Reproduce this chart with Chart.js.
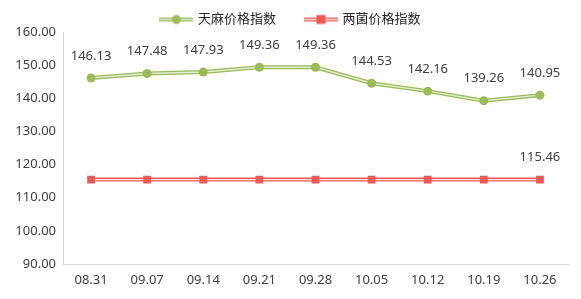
<!DOCTYPE html>
<html><head><meta charset="utf-8">
<script src="https://cdn.jsdelivr.net/npm/chart.js@4/dist/chart.umd.min.js"></script>
<style>html,body{margin:0;padding:0;background:#fff}#wrap{width:581px;height:299px}</style>
</head><body><div id="wrap"><canvas id="c" width="581" height="299"></canvas></div>
<script>
const categories = ['08.31','09.07','09.14','09.21','09.28','10.05','10.12','10.19','10.26'];
const tianmaValues = [146.13,147.48,147.93,149.36,149.36,144.53,142.16,139.26,140.95];
const liangjunValues = [115.46,115.46,115.46,115.46,115.46,115.46,115.46,115.46,115.46];
const seriesNames = ['天麻价格指数','两菌价格指数'];
const yTicks = [90,100,110,120,130,140,150,160];

const GREEN = '#9BBB59', GREEN_IN = '#E4ECD3';
const RED = '#EB5B55', RED_IN = '#FCE3E2';
const FONT = '"Noto Sans", "Noto Sans CJK SC", sans-serif';

function legendIcon(color, inner, shape){
  const c = document.createElement('canvas'); c.width = 34; c.height = 12;
  const x = c.getContext('2d');
  x.strokeStyle = color; x.lineWidth = 4; x.beginPath(); x.moveTo(0,6); x.lineTo(34,6); x.stroke();
  x.strokeStyle = inner; x.lineWidth = 1.4; x.beginPath(); x.moveTo(0,6); x.lineTo(34,6); x.stroke();
  x.fillStyle = color;
  if (shape === 'circle'){ x.beginPath(); x.arc(17,6,4.5,0,Math.PI*2); x.fill(); }
  else { x.fillRect(12.5,1.5,9,9); }
  return c;
}

const labelPlugin = {
  id:'valueLabels',
  afterDatasetsDraw(chart){
    const ctx = chart.ctx;
    ctx.save();
    ctx.font = '13px ' + FONT; ctx.fillStyle = '#404040';
    ctx.textAlign = 'center'; ctx.textBaseline = 'middle';
    chart.data.datasets.forEach((ds, di) => {
      if (!ds.labelMode) return;
      const meta = chart.getDatasetMeta(di);
      meta.data.forEach((pt, i) => {
        if (ds.labelMode === 'last' && i !== ds.data.length - 1) return;
        ctx.fillText(ds.data[i].toFixed(2), pt.x, pt.y - 22);
      });
    });
    ctx.restore();
  }
};

const chart = new Chart(document.getElementById('c'), {
  type:'line',
  data:{
    labels: categories,
    datasets:[
      {label:seriesNames[0], data:tianmaValues, showLine:false, pointStyle:'circle', pointRadius:4.5, pointBackgroundColor:GREEN, pointBorderWidth:0, labelMode:'all'},
      {label:seriesNames[1], data:liangjunValues, showLine:false, pointStyle:'rect', pointRadius:5.5, pointBackgroundColor:RED, pointBorderWidth:0, labelMode:'last'},
      {label:'g-in', data:tianmaValues, borderColor:GREEN_IN, borderWidth:1.4, pointRadius:0, tension:0},
      {label:'r-in', data:liangjunValues, borderColor:RED_IN, borderWidth:1.4, pointRadius:0, tension:0},
      {label:'g-out', data:tianmaValues, borderColor:GREEN, borderWidth:4, pointRadius:0, tension:0},
      {label:'r-out', data:liangjunValues, borderColor:RED, borderWidth:4, pointRadius:0, tension:0}
    ]
  },
  options:{
    responsive:false, animation:false, devicePixelRatio:1,
    layout:{padding:{left:0,right:13,top:-17,bottom:0}},
    plugins:{
      tooltip:{enabled:false},
      legend:{
        position:'top',
        labels:{
          usePointStyle:true, pointStyleWidth:30, padding:30,
          font:{size:13, family:FONT}, color:'#262626',
          generateLabels(){
            return [
              {text:seriesNames[0], pointStyle:legendIcon(GREEN,GREEN_IN,'circle'), fillStyle:GREEN, strokeStyle:GREEN, lineWidth:0, datasetIndex:0, hidden:false, fontColor:'#262626'},
              {text:seriesNames[1], pointStyle:legendIcon(RED,RED_IN,'rect'), fillStyle:RED, strokeStyle:RED, lineWidth:0, datasetIndex:1, hidden:false, fontColor:'#262626'}
            ];
          }
        }
      }
    },
    scales:{
      x:{
        offset:true,
        grid:{display:false, drawTicks:false},
        border:{display:true, color:'#D9D9D9'},
        ticks:{font:{size:13,family:FONT}, color:'#404040', padding:8, maxRotation:0},
        afterFit(s){ s.height = 35; }
      },
      y:{
        min:90, max:160,
        grid:{display:false, drawTicks:false},
        border:{display:true, color:'#D9D9D9'},
        afterBuildTicks(s){ s.ticks = yTicks.map(v => ({value:v})); },
        ticks:{font:{size:13,family:FONT}, color:'#404040', padding:7, callback:v => Number(v).toFixed(2)},
        afterFit(s){ s.width = 63; }
      }
    }
  },
  plugins:[labelPlugin]
});
const origFit = chart.legend.fit.bind(chart.legend);
chart.legend.fit = function(){ origFit(); this.height = 49; };
const origDraw = chart.legend.draw.bind(chart.legend);
chart.legend.draw = function(area){ const c = chart.ctx; c.save(); c.translate(7, 0); origDraw(area); c.restore(); };
chart.update();
</script></body></html>
